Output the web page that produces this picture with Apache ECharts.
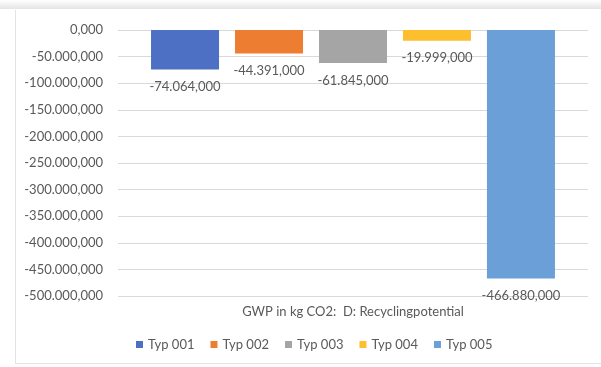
<!DOCTYPE html>
<html>
<head>
<meta charset="utf-8">
<script src="https://cdn.jsdelivr.net/npm/echarts@6/dist/echarts.min.js"></script>
<style>
  html, body { margin: 0; padding: 0; background: #ffffff; }
  #chart { width: 601px; height: 367px; }
</style>
</head>
<body>
<div id="chart"></div>
<script>
// GWP in kg CO2, module D (recycling potential), per building type
const categories = ['GWP in kg CO2:  D: Recyclingpotential'];
const seriesNames = ['Typ 001', 'Typ 002', 'Typ 003', 'Typ 004', 'Typ 005'];
const seriesValues = [-74064, -44391, -61845, -19999, -466880];
const seriesColors = ['#4d6fc4', '#ed7d31', '#a5a5a5', '#fdbf2d', '#6a9fd8'];
const axisMin = -500000;
const axisMax = 0;
const axisStep = 50000;

// German number format with three decimals, e.g. -74.064,000
function fmt(v) {
  const neg = v < 0;
  const abs = Math.abs(v);
  const intPart = Math.floor(abs).toString().replace(/\B(?=(\d{3})+(?!\d))/g, '.');
  const dec = Math.round((abs - Math.floor(abs)) * 1000).toString().padStart(3, '0');
  return (neg ? '-' : '') + intPart + ',' + dec;
}

const FONT = 'Lato, "Open Sans", sans-serif';
const TEXT = '#595959';

const chart = echarts.init(document.getElementById('chart'), null, { renderer: 'canvas' });

const series = seriesNames.map((name, i) => ({
  name: name,
  type: 'bar',
  data: [seriesValues[i]],
  barWidth: 68,
  barGap: '23.5%',
  itemStyle: { color: seriesColors[i] },
  label: {
    show: true,
    position: 'bottom',
    distance: 11,
    formatter: p => fmt(p.value),
    color: TEXT,
    fontFamily: FONT,
    fontSize: 13
  }
}));

chart.setOption({
  animation: false,
  backgroundColor: '#ffffff',
  grid: { left: 118, right: 13, top: 30, bottom: 71, containLabel: false },
  graphic: [
    // sheet frame around the chart
    { type: 'rect', shape: { x: 0, y: 0, width: 601, height: 9 },
      style: { fill: new echarts.graphic.LinearGradient(0, 0, 0, 1, [
        { offset: 0, color: '#ffffff' }, { offset: 1, color: '#e4e4e4' }]) }, silent: true },
    { type: 'line', shape: { x1: 15.5, y1: 10, x2: 15.5, y2: 364 },
      style: { stroke: '#e3e3e3', lineWidth: 1 }, silent: true },
    { type: 'line', shape: { x1: 15, y1: 363.5, x2: 601, y2: 363.5 },
      style: { stroke: '#e3e3e3', lineWidth: 1 }, silent: true }
  ],
  legend: {
    data: seriesNames,
    left: 131,
    top: 333,
    icon: 'rect',
    itemWidth: 7,
    itemHeight: 7,
    itemGap: 16,
    textStyle: { color: TEXT, fontFamily: FONT, fontSize: 13 }
  },
  xAxis: {
    type: 'category',
    data: categories,
    position: 'bottom',
    axisLine: { show: false, onZero: false },
    axisTick: { show: false },
    axisLabel: { color: TEXT, fontFamily: FONT, fontSize: 13, margin: 9 }
  },
  yAxis: {
    type: 'value',
    min: axisMin,
    max: axisMax,
    interval: axisStep,
    axisLine: { show: false },
    axisTick: { show: false },
    splitLine: { lineStyle: { color: '#d9d9d9', width: 1 } },
    axisLabel: { color: TEXT, fontFamily: FONT, fontSize: 13, margin: 15, formatter: v => fmt(v) }
  },
  series: series
});
</script>
</body>
</html>
